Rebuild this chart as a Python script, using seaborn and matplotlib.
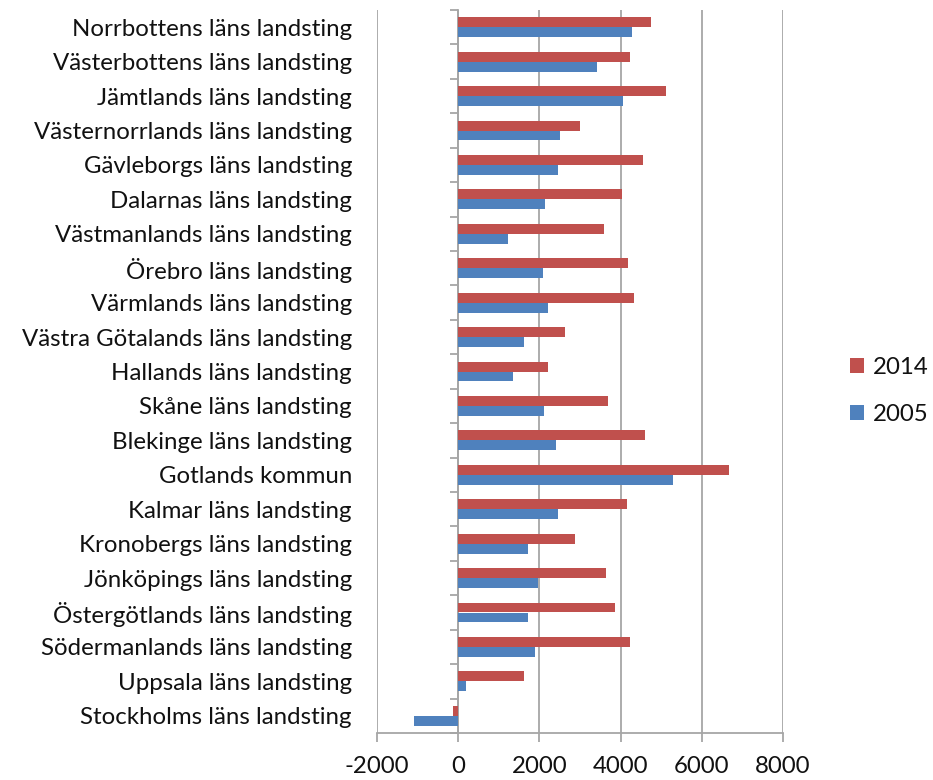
import pandas as pd
import seaborn as sns
import matplotlib.pyplot as plt

regions = [
    "Norrbottens läns landsting", "Västerbottens läns landsting", "Jämtlands läns landsting",
    "Västernorrlands läns landsting", "Gävleborgs läns landsting", "Dalarnas läns landsting",
    "Västmanlands läns landsting", "Örebro läns landsting", "Värmlands läns landsting",
    "Västra Götalands läns landsting", "Hallands läns landsting", "Skåne läns landsting",
    "Blekinge läns landsting", "Gotlands kommun", "Kalmar läns landsting",
    "Kronobergs läns landsting", "Jönköpings läns landsting", "Östergötlands läns landsting",
    "Södermanlands läns landsting", "Uppsala läns landsting", "Stockholms läns landsting",
]
vals_2014 = [4760, 4220, 5130, 3000, 4540, 4040, 3600, 4190, 4320, 2620, 2210, 3690,
             4600, 6680, 4160, 2880, 3630, 3850, 4220, 1620, -140]
vals_2005 = [4290, 3410, 4070, 2500, 2470, 2150, 1230, 2080, 2210, 1620, 1360, 2120,
             2400, 5290, 2470, 1710, 1960, 1710, 1900, 200, -1080]
years = ["2014", "2005"]
x_ticks = [-2000, 0, 2000, 4000, 6000, 8000]

df = pd.DataFrame({
    "region": regions * 2,
    "year": ["2014"] * len(regions) + ["2005"] * len(regions),
    "value": vals_2014 + vals_2005,
})

sns.set_theme(style="white")
plt.rcParams["font.family"] = ["Lato", "DejaVu Sans"]
plt.rcParams["axes.unicode_minus"] = False
gray = "#A6A6A6"
fs = 17.3

fig = plt.figure(figsize=(9.33, 7.8), dpi=100)
ax = fig.add_axes([377 / 933, 1 - 733 / 780, 406 / 933, 723 / 780])

sns.barplot(data=df, y="region", x="value", hue="year", hue_order=years,
            palette=["#C0504D", "#4F81BD"], orient="h", width=0.58, gap=0,
            errorbar=None, saturation=1, linewidth=0, ax=ax)

ax.set_xlim(x_ticks[0], x_ticks[-1])
ax.set_xticks(x_ticks)
ax.set_ylim(len(regions) - 0.5, -0.5)
ax.set_xlabel("")
ax.set_ylabel("")
ax.grid(axis="x", color=gray, linewidth=1.3)
ax.set_axisbelow(True)
for s in ["top", "right", "left"]:
    ax.spines[s].set_visible(False)
ax.spines["bottom"].set_color(gray)
ax.spines["bottom"].set_linewidth(1.3)
ax.tick_params(axis="x", direction="out", length=6.5, width=1.3, color=gray,
               labelsize=fs, labelcolor="#111111", pad=10, bottom=True)
ax.tick_params(axis="y", length=0, labelsize=fs, labelcolor="#111111", pad=18)

# category axis crossing at zero, with tick marks between categories
sec = ax.secondary_yaxis(0, transform=ax.transData)
sec.set_yticks([i - 0.5 for i in range(len(regions) + 1)])
sec.set_yticklabels([])
sec.spines["left"].set_color(gray)
sec.spines["left"].set_linewidth(1.3)
sec.tick_params(axis="y", direction="out", length=6, width=1.3, color=gray)

handles, labels = ax.get_legend_handles_labels()
ax.get_legend().remove()
ax.legend(handles, labels, loc="center left", bbox_to_anchor=(1.165, 0.473),
          frameon=False, fontsize=fs, handlelength=0.6, handleheight=0.6,
          handletextpad=0.35, labelspacing=1.1, borderpad=0, borderaxespad=0,
          labelcolor="#111111")

fig.savefig("out.png", dpi=100)
plt.close(fig)
